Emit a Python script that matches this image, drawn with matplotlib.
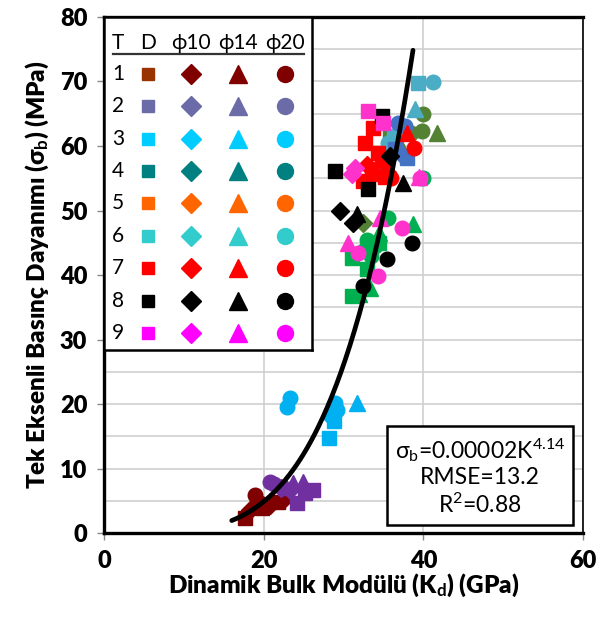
import numpy as np
import matplotlib
matplotlib.use("Agg")
import matplotlib.pyplot as plt

plt.rcParams['font.family'] = ['Lato', 'DejaVu Sans']
plt.rcParams['mathtext.fontset'] = 'custom'
plt.rcParams['mathtext.rm'] = 'Lato'
plt.rcParams['mathtext.it'] = 'Lato:italic'
plt.rcParams['mathtext.bf'] = 'Lato:bold'

# ---------------- data ----------------
# T1 dark red
t1_sq_x = [17.7, 19.8, 21.8]; t1_sq_y = [2.3, 3.9, 4.8]
t1_di_x = [18.3, 20.8, 22.4]; t1_di_y = [3.6, 4.3, 5.1]
t1_ci_x = [18.9, 19.5];       t1_ci_y = [5.9, 4.6]
# T2 purple
t2_sq_x = [26.2, 24.2, 25.2]; t2_sq_y = [6.6, 4.6, 6.2]
t2_di_x = [23.3, 22.2];       t2_di_y = [6.6, 7.0]
t2_tr_x = [23.7, 24.9, 22.8]; t2_tr_y = [7.7, 7.9, 7.2]
t2_ci_x = [20.8, 21.3];       t2_ci_y = [7.9, 7.6]
# T3 light blue
t3_sq_x = [28.2, 28.8];       t3_sq_y = [14.8, 17.3]
t3_di_x = [28.5];             t3_di_y = [17.8]
t3_tr_x = [31.7];             t3_tr_y = [20.1]
t3_ci_x = [23.3, 22.9, 28.9, 29.2, 28.7]; t3_ci_y = [21.0, 19.6, 20.2, 19.0, 18.3]
# steel blue
sb_sq_x = [39.3, 36.3];       sb_sq_y = [69.7, 61.5]
sb_tr_x = [39.0, 34.8];       sb_tr_y = [65.7, 57.5]
sb_ci_x = [41.2, 35.6];       sb_ci_y = [69.9, 60.4]
# medium blue
mb_sq_x = [38.0, 36.5];       mb_sq_y = [58.1, 59.5]
mb_di_x = [37.2];             mb_di_y = [58.8]
mb_ci_x = [36.8, 37.7];       mb_ci_y = [63.5, 63.1]
# olive green
ol_sq_x = [35.8];             ol_sq_y = [61.5]
ol_di_x = [32.5];             ol_di_y = [48.1]
ol_tr_x = [41.7, 37.0];       ol_tr_y = [62.0, 60.5]
ol_ci_x = [40.0, 39.8, 38.5]; ol_ci_y = [64.9, 62.3, 62.0]
# green
gr_sq_x = [31.0, 31.1, 33.0, 34.5]; gr_sq_y = [42.7, 36.8, 41.0, 45.0]
gr_di_x = [32.6];                   gr_di_y = [44.0]
gr_tr_x = [38.7, 34.5, 33.3, 32.0]; gr_tr_y = [47.9, 46.5, 38.0, 37.0]
gr_ci_x = [35.6, 33.0, 34.0, 33.5, 39.9]; gr_ci_y = [48.9, 45.5, 44.5, 43.0, 55.0]
# red
rd_sq_x = [33.7, 32.7, 34.3, 33.6, 32.5, 35.2]; rd_sq_y = [62.8, 60.4, 58.9, 55.6, 54.5, 55.2]
rd_di_x = [33.0, 35.5];       rd_di_y = [57.0, 56.0]
rd_tr_x = [38.0, 34.0];       rd_tr_y = [62.0, 56.5]
rd_ci_x = [38.8, 35.0, 36.0]; rd_ci_y = [59.7, 57.6, 55.0]
# black
bk_sq_x = [34.8, 28.9, 33.1]; bk_sq_y = [64.6, 56.1, 53.3]
bk_di_x = [35.8, 29.6, 31.2]; bk_di_y = [58.4, 49.9, 48.1]
bk_tr_x = [37.5, 31.7];       bk_tr_y = [54.3, 49.5]
bk_ci_x = [38.6, 35.5, 32.5]; bk_ci_y = [45.0, 42.5, 38.3]
# magenta
mg_sq_x = [33.1, 35.0];       mg_sq_y = [65.4, 63.5]
mg_di_x = [31.5, 31.0];       mg_di_y = [56.6, 55.6]
mg_tr_x = [34.6, 30.6, 39.4]; mg_tr_y = [48.9, 45.0, 55.2]
mg_ci_x = [37.3, 31.8, 34.3, 39.6]; mg_ci_y = [47.3, 43.4, 39.9, 55.0]

# fit: sigma_b = a * K^b
fit_a = 0.00002
fit_b = 4.14
fit_kmin, fit_kmax = 16.0, 38.7

# legend table
legend_rows = ['1', '2', '3', '4', '5', '6', '7', '8', '9']
legend_heads = ['T', 'D', 'ϕ10', 'ϕ14', 'ϕ20']
legend_sq_colors = ['#993300', '#6B6BA8', '#00CCFF', '#008080', '#FF6600',
                    '#33CCCC', '#FF0000', '#000000', '#FF00FF']
legend_sym_colors = ['#800000', '#6B6BA8', '#00CCFF', '#008080', '#FF6600',
                     '#33CCCC', '#FF0000', '#000000', '#FF00FF']

# ---------------- figure ----------------
fig = plt.figure(figsize=(6.08, 6.18), dpi=100)
ax = fig.add_axes([0.171, 0.1375, 0.788, 0.835])

C = dict(t1='#800000', t2='#7030A0', t3='#00B0F0', sb='#4BACC6', mb='#4472C4',
         ol='#548235', gr='#00B050', rd='#FF0000', bk='#000000', mg='#FF33CC')
MS = {'s': 9.5, 'D': 9.5, '^': 11, 'o': 10.5}

groups = [
    ('t1', 's', t1_sq_x, t1_sq_y), ('t1', 'D', t1_di_x, t1_di_y), ('t1', 'o', t1_ci_x, t1_ci_y),
    ('t2', 's', t2_sq_x, t2_sq_y), ('t2', 'D', t2_di_x, t2_di_y), ('t2', '^', t2_tr_x, t2_tr_y),
    ('t2', 'o', t2_ci_x, t2_ci_y),
    ('t3', 's', t3_sq_x, t3_sq_y), ('t3', 'D', t3_di_x, t3_di_y), ('t3', '^', t3_tr_x, t3_tr_y),
    ('t3', 'o', t3_ci_x, t3_ci_y),
    ('gr', 's', gr_sq_x, gr_sq_y), ('gr', 'D', gr_di_x, gr_di_y), ('gr', '^', gr_tr_x, gr_tr_y),
    ('gr', 'o', gr_ci_x, gr_ci_y),
    ('ol', 's', ol_sq_x, ol_sq_y), ('ol', 'D', ol_di_x, ol_di_y), ('ol', '^', ol_tr_x, ol_tr_y),
    ('ol', 'o', ol_ci_x, ol_ci_y),
    ('sb', 's', sb_sq_x, sb_sq_y), ('sb', '^', sb_tr_x, sb_tr_y), ('sb', 'o', sb_ci_x, sb_ci_y),
    ('mb', 's', mb_sq_x, mb_sq_y), ('mb', 'D', mb_di_x, mb_di_y), ('mb', 'o', mb_ci_x, mb_ci_y),
    ('rd', 's', rd_sq_x, rd_sq_y), ('rd', 'D', rd_di_x, rd_di_y), ('rd', '^', rd_tr_x, rd_tr_y),
    ('rd', 'o', rd_ci_x, rd_ci_y),
    ('bk', 's', bk_sq_x, bk_sq_y), ('bk', 'D', bk_di_x, bk_di_y), ('bk', '^', bk_tr_x, bk_tr_y),
    ('bk', 'o', bk_ci_x, bk_ci_y),
    ('mg', 's', mg_sq_x, mg_sq_y), ('mg', 'D', mg_di_x, mg_di_y), ('mg', '^', mg_tr_x, mg_tr_y),
    ('mg', 'o', mg_ci_x, mg_ci_y),
]
for key, mk, xs, ys in groups:
    ax.plot(xs, ys, ls='none', marker=mk, ms=MS[mk], mfc=C[key], mec=C[key], zorder=3)

kk = np.linspace(fit_kmin, fit_kmax, 200)
ax.plot(kk, fit_a * kk ** fit_b, color='black', lw=3.4, zorder=4, solid_capstyle='round')

ax.set_xlim(0, 60)
ax.set_ylim(0, 80)
ax.set_xticks([0, 20, 40, 60])
ax.set_yticks(np.arange(0, 81, 10))
ax.set_yticks(np.arange(0, 81, 5), minor=True)
ax.tick_params(axis='y', which='minor', length=0)
ax.grid(True, axis='y', which='both', color='#D0D0D0', lw=1.2, zorder=0)
ax.grid(True, axis='x', which='major', color='#D0D0D0', lw=1.2, zorder=0)
ax.set_axisbelow(True)
ax.tick_params(axis='both', which='major', direction='out', length=5, width=1,
               color='#888888', labelsize=17, pad=7)
for lab in ax.get_xticklabels() + ax.get_yticklabels():
    lab.set_fontweight('heavy')
for sp in ax.spines.values():
    sp.set_linewidth(2.4)
    sp.set_color('black')
ax.spines['right'].set_linewidth(1.2)

ax.set_xlabel('Dinamik Bulk Modülü (K$_\\mathbf{d}$) (GPa)', fontsize=17.5,
              fontweight='heavy', labelpad=0)
ax.set_ylabel('Tek Eksenli Basınç Dayanımı (σ$_\\mathbf{b}$) (MPa)', fontsize=17.5,
              fontweight='heavy', labelpad=6)

ax.text(0.785, 0.11, 'σ$_\\mathrm{b}$=0.00002K$^{4.14}$\nRMSE=13.2\nR$^2$=0.88',
        transform=ax.transAxes, ha='center', va='center', multialignment='center',
        fontsize=16.5, linespacing=1.2, zorder=6,
        bbox=dict(boxstyle='square,pad=0.35', fc='white', ec='black', lw=1.8))

# legend table inset
lg = ax.inset_axes([0.0, 0.355, 0.434, 0.645])
lg.set_zorder(7)
lg.set_facecolor('white')
lg.set_xlim(0, 208)
lg.set_ylim(334, 0)
lg.set_xticks([]); lg.set_yticks([])
for sp in lg.spines.values():
    sp.set_linewidth(1.8)
    sp.set_color('black')
col_x = [14, 44, 87, 134, 181]
head_y = 26
row_y0, row_dy = 57, 32.5
for cx, h in zip(col_x, legend_heads):
    lg.text(cx, head_y, h, ha='center', va='center', fontsize=15)
lg.plot([9, 200], [37, 37], color='#333333', lw=1.6)
sym_markers = ['D', '^', 'o']
sym_ms = {'D': 10.5, '^': 12.5, 'o': 11.5}
for i, (lab, csq, csym) in enumerate(zip(legend_rows, legend_sq_colors, legend_sym_colors)):
    yy = row_y0 + row_dy * i
    lg.text(col_x[0], yy, lab, ha='center', va='center', fontsize=15)
    lg.plot([col_x[1]], [yy], ls='none', marker='s', ms=9, mfc=csq, mec=csq)
    for j, mk in enumerate(sym_markers):
        lg.plot([col_x[2 + j]], [yy], ls='none', marker=mk, ms=sym_ms[mk], mfc=csym, mec=csym)

fig.savefig('out.png', dpi=100)
